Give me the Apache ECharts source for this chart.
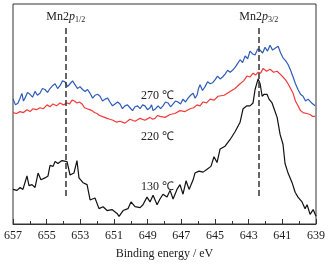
<!DOCTYPE html>
<html>
<head>
<meta charset="utf-8">
<script src="https://cdn.jsdelivr.net/npm/echarts@6/dist/echarts.min.js"></script>
<style>
  html, body { margin: 0; padding: 0; background: #fff; }
  #chart { width: 329px; height: 265px; }
</style>
</head>
<body>
<div id="chart"></div>
<script>
// binding energy (eV), intensity (a.u.)
const s270 = [
  [657.00, 130], [656.85, 124], [656.70, 126], [656.58, 131], [656.47, 136], [656.38, 128],
  [656.29, 131], [656.14, 137], [655.99, 135], [655.84, 132], [655.69, 138], [655.55, 134],
  [655.40, 136], [655.25, 141], [655.10, 140], [654.95, 137], [654.80, 141], [654.65, 144],
  [654.50, 146], [654.35, 141], [654.21, 144], [654.06, 149], [653.91, 148], [653.76, 143],
  [653.61, 146], [653.46, 149], [653.32, 145], [653.17, 141], [653.02, 143], [652.87, 140],
  [652.72, 138], [652.57, 140], [652.42, 136], [652.27, 131], [652.13, 134], [651.98, 135],
  [651.83, 133], [651.68, 128], [651.53, 130], [651.38, 131], [651.24, 127], [651.09, 123],
  [650.94, 125], [650.79, 127], [650.64, 125], [650.50, 120], [650.35, 123], [650.20, 124],
  [650.05, 121], [649.90, 118], [649.75, 122], [649.60, 123], [649.45, 120], [649.30, 124],
  [649.16, 123], [649.01, 119], [648.86, 121], [648.77, 124], [648.68, 118], [648.53, 120],
  [648.38, 123], [648.23, 120], [648.09, 123], [647.94, 127], [647.79, 126], [647.64, 122],
  [647.49, 125], [647.35, 128], [647.20, 127], [647.05, 125], [646.90, 130], [646.75, 127],
  [646.60, 131], [646.45, 134], [646.30, 136], [646.18, 131], [646.07, 134], [645.98, 141],
  [645.89, 145], [645.74, 139], [645.59, 143], [645.44, 148], [645.29, 146], [645.15, 147],
  [645.00, 150], [644.85, 154], [644.70, 151], [644.55, 153], [644.40, 156], [644.25, 160],
  [644.10, 158], [643.96, 160], [643.81, 163], [643.66, 167], [643.51, 171], [643.36, 168],
  [643.21, 175], [643.06, 172], [642.92, 180], [642.77, 177], [642.62, 176], [642.47, 182],
  [642.32, 181], [642.17, 178], [642.03, 184], [641.88, 180], [641.73, 186], [641.58, 181],
  [641.43, 183], [641.25, 185], [641.10, 178], [640.96, 173], [640.81, 170], [640.66, 166],
  [640.51, 160], [640.36, 153], [640.22, 146], [640.07, 140], [639.92, 135], [639.77, 133],
  [639.62, 128], [639.47, 130], [639.26, 126], [639.05, 123]
];
const s220 = [
  [657.00, 116], [656.79, 115], [656.58, 117], [656.38, 116], [656.17, 119], [655.99, 117],
  [655.81, 120], [655.60, 119], [655.40, 121], [655.19, 120], [654.98, 124], [654.80, 122],
  [654.62, 125], [654.41, 123], [654.21, 126], [654.00, 124], [653.79, 126], [653.64, 125],
  [653.49, 129], [653.35, 128], [653.20, 126], [653.05, 127], [652.90, 125], [652.75, 121],
  [652.60, 120], [652.45, 119], [652.31, 118], [652.16, 116], [652.01, 115], [651.86, 113],
  [651.71, 112], [651.56, 111], [651.41, 110], [651.24, 109], [651.06, 108], [650.85, 106],
  [650.64, 107], [650.35, 105], [650.05, 109], [649.75, 107], [649.45, 110], [649.16, 108],
  [648.86, 111], [648.71, 109], [648.56, 110], [648.41, 113], [648.27, 112], [647.97, 111],
  [647.67, 114], [647.38, 115], [647.08, 118], [646.78, 117], [646.48, 120], [646.27, 121],
  [646.07, 124], [645.89, 123], [645.71, 127], [645.50, 126], [645.29, 130], [645.05, 129],
  [644.82, 133], [644.46, 134], [644.10, 138], [643.81, 141], [643.51, 146], [643.30, 149],
  [643.10, 154], [642.92, 153], [642.74, 157], [642.59, 155], [642.44, 158], [642.29, 157],
  [642.14, 162], [641.94, 159], [641.73, 161], [641.52, 158], [641.31, 159], [641.13, 156],
  [640.96, 153], [640.81, 150], [640.66, 146], [640.51, 141], [640.36, 136], [640.22, 128],
  [640.07, 123], [639.92, 118], [639.77, 116], [639.56, 115], [639.35, 114], [639.20, 112],
  [639.05, 112]
];
const s130 = [
  [657.00, 36], [656.76, 35], [656.58, 38], [656.41, 36], [656.17, 50], [656.05, 40],
  [655.87, 41], [655.69, 38], [655.51, 53], [655.34, 46], [655.10, 48], [654.92, 50],
  [654.80, 61], [654.62, 60], [654.50, 65], [654.33, 63], [654.09, 66], [653.79, 65],
  [653.61, 51], [653.38, 53], [653.20, 66], [653.08, 48], [652.84, 43], [652.60, 41],
  [652.42, 25], [652.13, 27], [651.89, 16], [651.65, 18], [651.41, 14], [651.12, 15],
  [650.82, 11], [650.70, 8], [650.46, 14], [650.17, 16], [649.99, 23], [649.75, 18],
  [649.45, 17], [649.28, 20], [649.04, 28], [648.86, 23], [648.68, 30], [648.44, 20],
  [648.27, 26], [648.09, 31], [647.85, 28], [647.67, 35], [647.49, 26], [647.26, 36],
  [647.08, 41], [646.90, 31], [646.72, 45], [646.54, 36], [646.30, 46], [646.19, 53],
  [645.95, 55], [645.71, 54], [645.47, 57], [645.24, 60], [645.06, 70], [644.88, 64],
  [644.70, 78], [644.40, 81], [644.10, 88], [643.81, 96], [643.51, 106], [643.33, 120],
  [643.10, 123], [642.92, 123], [642.74, 126], [642.62, 140], [642.44, 151], [642.32, 146],
  [642.20, 133], [642.08, 135], [641.91, 135], [641.79, 130], [641.61, 126], [641.49, 120],
  [641.31, 111], [641.13, 93], [640.96, 83], [640.84, 63], [640.66, 53], [640.42, 43],
  [640.24, 33], [640.07, 28], [639.83, 23], [639.65, 16], [639.53, 20], [639.35, 10],
  [639.17, 15], [639.00, 8]
];
const peakPos = [653.87, 642.40];
const peakNames = ["{a|Mn2}{p|p}{s|1/2}", "{a|Mn2}{p|p}{s|3/2}"];
const tempLabels = ["270 ℃", "220 ℃", "130 ℃"];

const serif = "Liberation Serif";
const chart = echarts.init(document.getElementById("chart"));

const richLabel = {
  a: { fontFamily: serif, fontSize: 12, color: "#222" },
  p: { fontFamily: serif, fontSize: 12, fontStyle: "italic", color: "#222" },
  s: { fontFamily: serif, fontSize: 8, color: "#222", padding: [6, 0, 0, 0] }
};

const option = {
  animation: false,
  grid: {
    left: 13,
    right: 13,
    top: 4,
    bottom: 32,
    show: true,
    borderColor: "#333",
    borderWidth: 1
  },
  xAxis: {
    type: "value",
    inverse: true,
    min: 639,
    max: 657,
    interval: 2,
    name: "Binding energy / eV",
    nameLocation: "middle",
    nameGap: 24,
    nameTextStyle: { fontFamily: serif, fontSize: 12, color: "#222" },
    axisLine: { lineStyle: { color: "#333", width: 1 } },
    axisTick: { inside: true, length: 5, lineStyle: { color: "#333" } },
    minorTick: { show: true, splitNumber: 2, length: 3, lineStyle: { color: "#333" } },
    axisLabel: { fontFamily: serif, fontSize: 12, color: "#222", margin: 6 },
    splitLine: { show: false }
  },
  yAxis: {
    type: "value",
    min: 0,
    max: 229,
    axisLine: { show: false },
    axisTick: { show: false },
    axisLabel: { show: false },
    splitLine: { show: false }
  },
  graphic: [
    { type: "text", left: 141, top: 90, style: { text: tempLabels[0], font: "12px " + serif, fill: "#222" } },
    { type: "text", left: 141, top: 131, style: { text: tempLabels[1], font: "12px " + serif, fill: "#222" } },
    { type: "text", left: 141, top: 181, style: { text: tempLabels[2], font: "12px " + serif, fill: "#222" } }
  ],
  series: [
    {
      type: "line",
      data: s270,
      showSymbol: false,
      lineStyle: { color: "#2e5cb8", width: 1.2 },
      z: 3
    },
    {
      type: "line",
      data: s220,
      showSymbol: false,
      lineStyle: { color: "#f23a3a", width: 1.2 },
      z: 3
    },
    {
      type: "line",
      data: s130,
      showSymbol: false,
      lineStyle: { color: "#111", width: 1.2 },
      z: 3,
      markLine: {
        symbol: ["none", "none"],
        silent: true,
        lineStyle: { color: "#333", type: [6, 3], width: 1.5 },
        label: { position: "start", distance: 4, rich: richLabel },
        data: peakPos.map((x, i) => [
          { coord: [x, 204], label: { formatter: peakNames[i] } },
          { coord: [x, 26] }
        ])
      }
    }
  ]
};
chart.setOption(option);
</script>
</body>
</html>
